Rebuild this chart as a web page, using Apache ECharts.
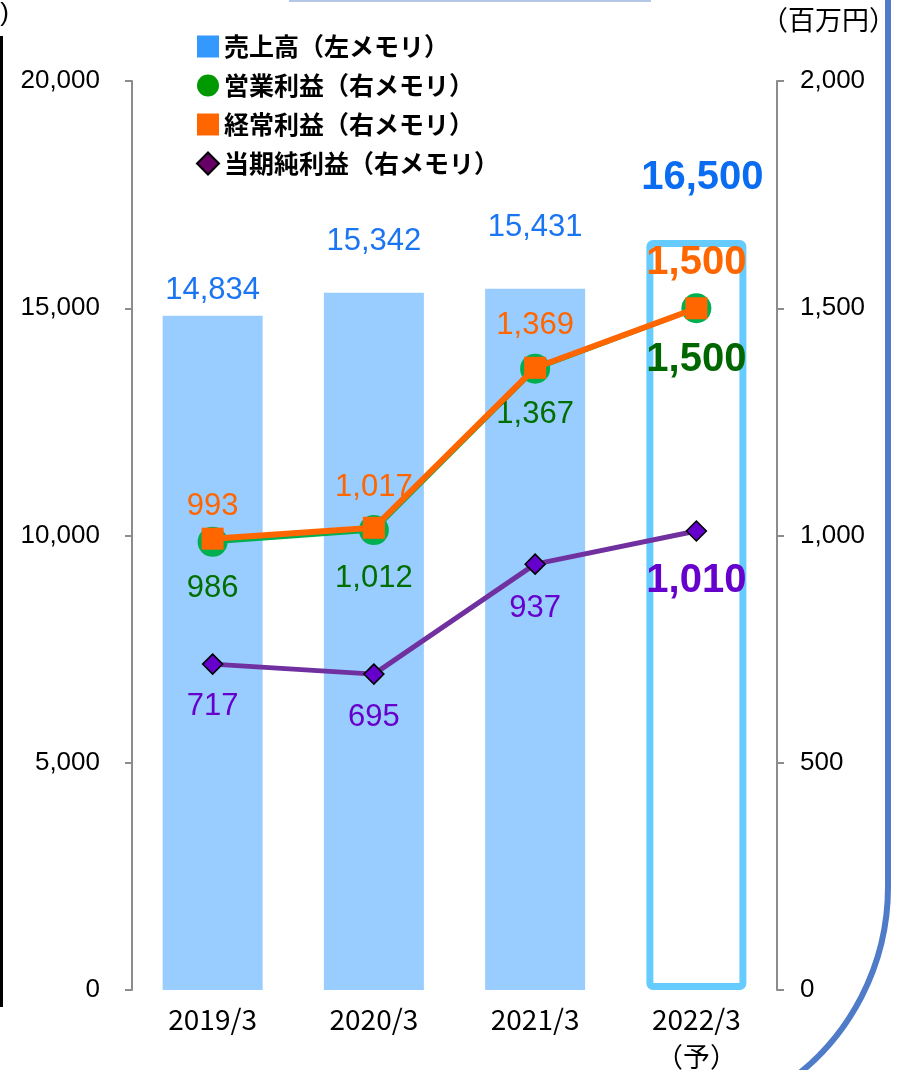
<!DOCTYPE html>
<html>
<head>
<meta charset="utf-8">
<script src="https://cdn.jsdelivr.net/npm/echarts@6/dist/echarts.min.js"></script>
<style>
html,body{margin:0;padding:0;background:#fff;}
#c{width:904px;height:1070px;}
</style>
</head>
<body>
<div id="c"></div>
<script>
const categories = ['2019/3', '2020/3', '2021/3', '2022/3\n（予）'];
const sales = [14834, 15342, 15431, 16500];
const operatingProfit = [986, 1012, 1367, 1500];
const ordinaryProfit = [993, 1017, 1369, 1500];
const netProfit = [717, 695, 937, 1010];
const leftTicks = [0, 5000, 10000, 15000, 20000];
const rightTicks = [0, 500, 1000, 1500, 2000];
const seriesNames = ['売上高（左メモリ）', '営業利益（右メモリ）', '経常利益（右メモリ）', '当期純利益（右メモリ）'];

const fmt = v => Number(v).toLocaleString('en-US');
const FONT = 'Liberation Sans, Arial, sans-serif';
const JP = '"Noto Sans CJK JP", sans-serif';
const last = categories.length - 1;

// label distances (styling only)
const barLabelDist = [10, 36, 46, 42];
const ordLabelDist = [6, 14, 16, 14];
const opLabelDist = [16, 18, 15, 17];
const netLabelDist = [16, 17, 18, 19];

const barData = sales.map((v, i) => {
  const item = { value: v, label: { distance: barLabelDist[i] } };
  if (i === last) {
    item.itemStyle = { color: '#ffffff', borderColor: '#66CCFF', borderWidth: 7, borderRadius: 3 };
    item.label = { distance: barLabelDist[i], offset: [6, 0], fontWeight: 'bold', fontSize: 40, color: '#0A6CF0' };
  }
  return item;
});

function lineData(arr, dists, boldColor) {
  return arr.map((v, i) => {
    const lab = { distance: dists[i] };
    if (i === last) { lab.fontWeight = 'bold'; lab.fontSize = 40; lab.color = boldColor; }
    return { value: v, label: lab };
  });
}

const chart = echarts.init(document.getElementById('c'), null, { renderer: 'canvas' });
chart.setOption({
  animation: false,
  backgroundColor: '#ffffff',
  grid: { left: 132, right: 127, top: 81, bottom: 79 },
  legend: {
    orient: 'vertical',
    left: 191,
    top: 29,
    itemWidth: 22,
    itemHeight: 22,
    itemGap: 14,
    textStyle: { fontFamily: JP, fontSize: 25, fontWeight: 'bold', color: '#000', lineHeight: 25 },
    data: [
      { name: seriesNames[0], icon: 'rect', itemStyle: { color: '#3399FF' } },
      { name: seriesNames[1], icon: 'circle', itemStyle: { color: '#009900' } },
      { name: seriesNames[2], icon: 'rect', itemStyle: { color: '#FF6600' } },
      { name: seriesNames[3], icon: 'diamond', itemStyle: { color: '#660066' } }
    ]
  },
  xAxis: {
    type: 'category',
    data: categories,
    axisLine: { show: false },
    axisTick: { show: false },
    axisLabel: {
      margin: 11,
      formatter: v => v.split('\n').map((s, i) => (i ? '{p|' + s + '}' : '{a|' + s + '}')).join('\n'),
      rich: {
        a: { fontFamily: JP, fontSize: 28, color: '#000', lineHeight: 37 },
        p: { fontFamily: JP, fontSize: 27, color: '#000', lineHeight: 37 }
      }
    }
  },
  yAxis: [
    {
      type: 'value', min: 0, max: 20000, interval: 5000, position: 'left',
      axisLine: { show: true, lineStyle: { color: '#8c8c8c', width: 2 } },
      axisTick: { show: true, length: 7, lineStyle: { color: '#8c8c8c', width: 2 } },
      splitLine: { show: false },
      axisLabel: { fontFamily: FONT, fontSize: 26, color: '#000', margin: 32, formatter: v => leftTicks.includes(v) ? fmt(v) : '' }
    },
    {
      type: 'value', min: 0, max: 2000, interval: 500, position: 'right',
      axisLine: { show: true, lineStyle: { color: '#8c8c8c', width: 2 } },
      axisTick: { show: true, length: 7, lineStyle: { color: '#8c8c8c', width: 2 } },
      splitLine: { show: false },
      axisLabel: { fontFamily: FONT, fontSize: 26, color: '#000', margin: 23, formatter: v => rightTicks.includes(v) ? fmt(v) : '' }
    }
  ],
  series: [
    {
      name: seriesNames[0], type: 'bar', yAxisIndex: 0, barWidth: 100,
      itemStyle: { color: '#99CCFF' },
      label: { show: true, position: 'top', fontFamily: FONT, fontSize: 31, color: '#1A75F2', formatter: p => fmt(p.value) },
      data: barData, z: 1
    },
    {
      name: seriesNames[1], type: 'line', yAxisIndex: 1,
      symbol: 'circle', symbolSize: 30,
      lineStyle: { color: '#00B050', width: 5 },
      itemStyle: { color: '#00B050' },
      label: { show: true, position: 'bottom', fontFamily: FONT, fontSize: 31, color: '#006F00', formatter: p => fmt(p.value) },
      data: lineData(operatingProfit, opLabelDist, '#006600'),
      z: 3
    },
    {
      name: seriesNames[2], type: 'line', yAxisIndex: 1,
      symbol: 'rect', symbolSize: 22,
      lineStyle: { color: '#FF6600', width: 6 },
      itemStyle: { color: '#FF6600' },
      label: { show: true, position: 'top', fontFamily: FONT, fontSize: 31, color: '#FF6600', formatter: p => fmt(p.value) },
      data: lineData(ordinaryProfit, ordLabelDist, '#FF6600'),
      z: 4
    },
    {
      name: seriesNames[3], type: 'line', yAxisIndex: 1,
      symbol: 'diamond', symbolSize: 20,
      lineStyle: { color: '#7030A0', width: 5 },
      itemStyle: { color: '#6600CC', borderColor: '#000', borderWidth: 1.5 },
      label: { show: true, position: 'bottom', fontFamily: FONT, fontSize: 31, color: '#6600CC', formatter: p => fmt(p.value) },
      data: lineData(netProfit, netLabelDist, '#6600CC'),
      z: 5
    }
  ],
  graphic: [
    { type: 'text', x: 896, y: 6, style: { text: '（百万円）', font: '27px "Noto Sans CJK JP"', fill: '#000', textAlign: 'right' } },
    { type: 'text', x: 9, y: 1, style: { text: ')', font: '26px "Liberation Sans"', fill: '#000', textAlign: 'right' } },
    { type: 'rect', shape: { x: 0, y: 36, width: 3, height: 971 }, style: { fill: '#000' } },
    { type: 'rect', shape: { x: 290, y: -40, width: 360, height: 41 }, style: { fill: 'none', stroke: '#B4C7E7', lineWidth: 2 } },
    { type: 'line', shape: { x1: 888, y1: -5, x2: 888, y2: 887 }, style: { stroke: '#4F7BC9', lineWidth: 6 } },
    { type: 'arc', shape: { cx: 648, cy: 887, r: 240, startAngle: 0, endAngle: 0.95, clockwise: true }, style: { fill: 'none', stroke: '#4F7BC9', lineWidth: 6 } }
  ]
});
</script>
</body>
</html>
